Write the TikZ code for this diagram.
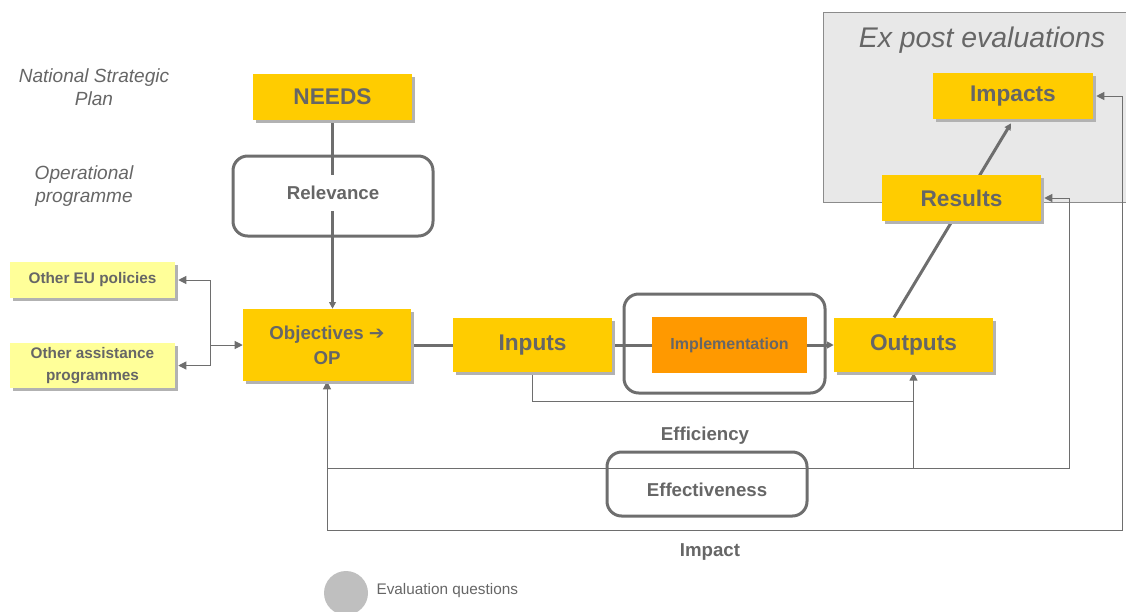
\documentclass[tikz,border=0pt]{standalone}
\usepackage{fontspec}
\setmainfont{Liberation Sans}
\newfontfamily\flechafont{DejaVu Sans}
\usetikzlibrary{arrows.meta,shadows,backgrounds,positioning}

\definecolor{amarillo}{HTML}{FFCC00}
\definecolor{amarilloclaro}{HTML}{FFFF99}
\definecolor{naranja}{HTML}{FF9900}
\definecolor{textogris}{HTML}{666666}
\definecolor{lineagris}{HTML}{6E6E6E}
\definecolor{fondogris}{HTML}{E8E8E8}
\definecolor{circulogris}{HTML}{BFBFBF}

\tikzset{
  sombra/.style={drop shadow={shadow xshift=2.25pt, shadow yshift=-2.25pt, fill=black!30, opacity=1}},
  caja/.style={fill=amarillo, text=textogris, inner sep=0pt, sombra,
    font=\bfseries\fontsize{17}{20}\selectfont},
  cajaclara/.style={fill=amarilloclaro, text=textogris, inner sep=0pt, align=center, sombra,
    font=\bfseries\fontsize{11.5}{17}\selectfont},
  cajanaranja/.style={fill=naranja, text=textogris, inner sep=0pt,
    font=\bfseries\fontsize{12}{14}\selectfont},
  marco/.style={draw=lineagris, line width=2.25pt, rounded corners=11pt},
  etiqueta/.style={text=textogris, font=\bfseries\fontsize{14}{17}\selectfont},
  nota/.style={text=textogris, align=center, font=\itshape\fontsize{14.3}{17}\selectfont},
  gruesa/.style={draw=lineagris, line width=2.25pt},
  fina/.style={draw=lineagris, line width=0.75pt},
  punta/.style={-{Triangle[length=6pt,width=6pt]}},
  puntagruesa/.style={-{Triangle[length=5pt,width=5pt]}}
}

\begin{document}
\begin{tikzpicture}[x=0.75pt,y=-0.75pt]
\useasboundingbox (0,0) rectangle (1126,611);

% Textos de la izquierda
\node[nota] (plan) at (94,87) {National Strategic\\Plan};
\node[nota] (programa) at (84,186) {Operational\\programme};

% Titulo del recuadro gris
\node[text=textogris, font=\itshape\fontsize{21.3}{24}\selectfont] (expost) at (982,40) {Ex post evaluations};

% Cajas amarillas
\node[caja, minimum width=119.25pt, minimum height=34.5pt] (needs) at (332.5,97) {NEEDS};
\node[caja, minimum width=120pt, minimum height=34.5pt] (impactos) at (1013,96) {Impacts};
\node[caja, minimum width=119.25pt, minimum height=34.5pt] (resultados) at (961.5,198) {Results};
\node[caja, align=center, minimum width=126pt, minimum height=54pt,
  font=\bfseries\fontsize{14}{19}\selectfont] (objetivos) at (327,345) {Objectives {\flechafont ➔}\\OP};
\node[caja, minimum width=119.25pt, minimum height=40.5pt] (inputs) at (532.5,345) {Inputs};
\node[caja, minimum width=119.25pt, minimum height=41pt] (outputs) at (913.5,345) {Outputs};

% Cajas amarillo claro
\node[cajaclara, minimum width=123.75pt, minimum height=27pt] (otrasue) at (92.5,280) {Other EU policies};
\node[cajaclara, minimum width=123.75pt, minimum height=33.75pt] (otrosprog) at (92.5,365.5) {Other assistance\\programmes};

% Implementacion
\node[marco, minimum width=150.75pt, minimum height=74.25pt] (marcoimpl) at (724.5,343.5) {};
\node[cajanaranja, minimum width=116pt, minimum height=42pt] (impl) at (729.5,345) {Implementation};

% Preguntas de evaluacion
\node[marco, minimum width=150pt, minimum height=60pt] (relevancia) at (333,196) {};
\node[etiqueta, fill=white, inner sep=2pt, minimum height=27pt] (textorelevancia) at (333,193) {Relevance};
\node[etiqueta] (eficiencia) at (705,436) {Efficiency};
\node[marco, minimum width=150pt, minimum height=48pt] (efectividad) at (707,484) {};
\node[etiqueta] (textoefectividad) at (707,490) {Effectiveness};
\node[etiqueta] (impacto) at (710,552) {Impact};

% Leyenda
\node[circle, fill=circulogris, minimum size=33pt, inner sep=0pt] (leyenda) at (346,593) {};
\node[right=6pt of leyenda, inner sep=0pt, yshift=2pt, text=textogris, font=\fontsize{11.5}{13}\selectfont] (textoleyenda) {Evaluation questions};

% Puntos de union
\coordinate (union) at (210,345);
\coordinate (efi) at (913.5,401);
\coordinate (efe) at (1069,468);
\coordinate (imp) at (1122,530);

\begin{scope}[on background layer]
% Recuadro de las evaluaciones ex post
\draw[draw=lineagris!80, fill=fondogris] (823,12) rectangle (1135,202);

% Cadena principal
\draw[gruesa, puntagruesa] (needs.south) -- (needs.south |- objetivos.north);
\draw[gruesa] (objetivos.east) -- (inputs.west);
\draw[gruesa] (inputs.east) -- (impl.west);
\draw[gruesa, puntagruesa] (impl.east) -- (outputs.west);
\draw[gruesa, puntagruesa] ([xshift=-14.6pt]outputs.north) -- ([xshift=-1.5pt,yshift=-3pt]impactos.south);

% Otras politicas
\draw[fina, punta] (union) -- (objetivos.west);
\draw[fina, punta] (union) |- ([xshift=2.25pt]otrasue.east);
\draw[fina, punta] (union) |- ([xshift=2.25pt]otrosprog.east);

% Bucles de evaluacion
\draw[fina, punta] (inputs.south) |- (efi) -- (outputs.south);
\draw[fina] (outputs.south |- efe) -- (efi);
\draw[fina, punta] (objetivos.south |- efe) -- (efe) |- ([xshift=2.25pt]resultados.east);
\draw[fina, punta] (objetivos.south |- imp) -- (imp) |- ([xshift=2.25pt]impactos.east);
\draw[fina, punta] (objetivos.south |- imp) -- (objetivos.south);
\end{scope}
\end{tikzpicture}
\end{document}
